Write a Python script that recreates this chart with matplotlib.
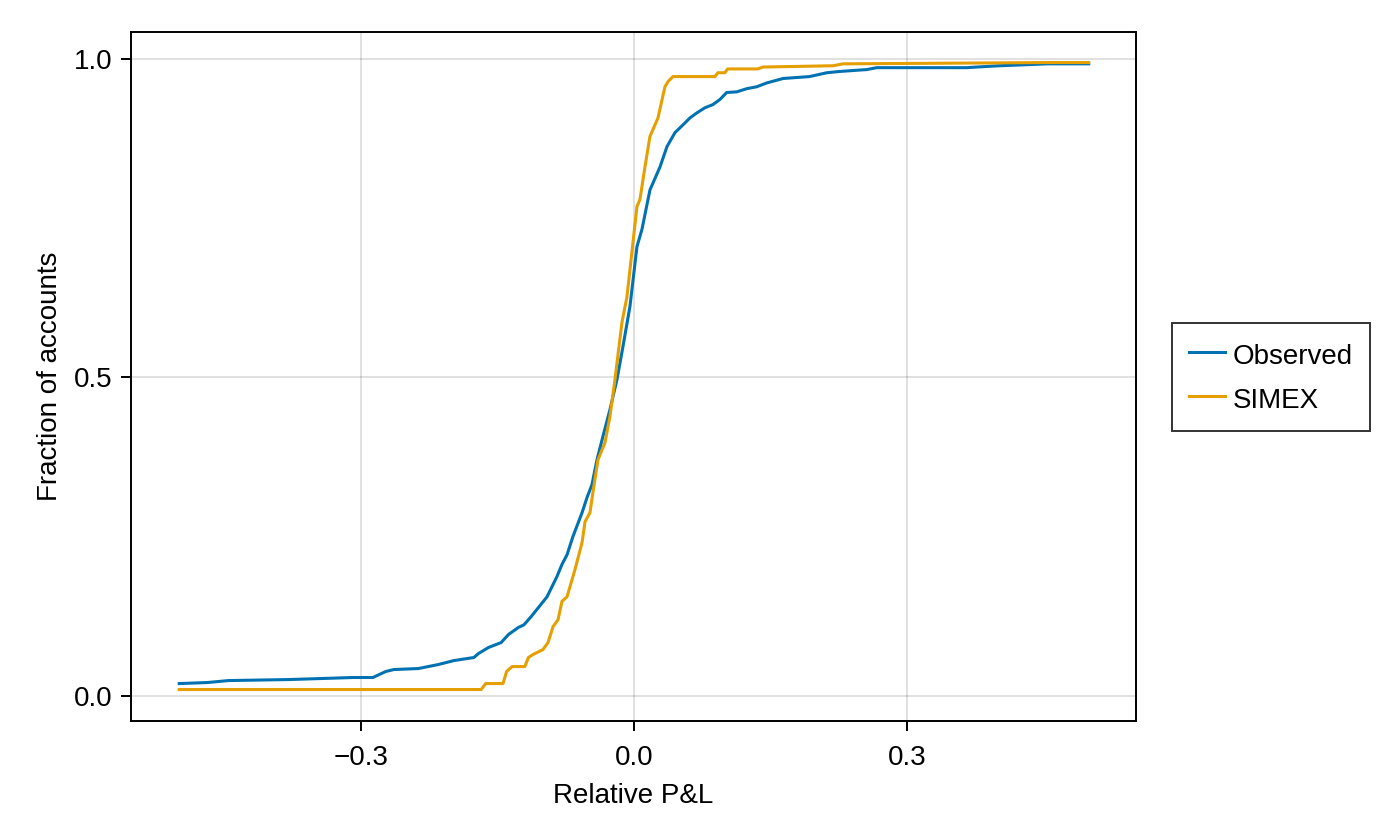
import matplotlib
matplotlib.use("Agg")
import matplotlib.pyplot as plt
from matplotlib.ticker import FixedLocator, FuncFormatter

plt.rcParams['font.family'] = ['Liberation Sans', 'DejaVu Sans']

# Observed empirical CDF (Relative P&L, fraction of accounts)
obs_x = [-0.50, -0.469, -0.446, -0.379, -0.309, -0.287, -0.273, -0.264, -0.237, -0.215,
         -0.198, -0.176, -0.171, -0.160, -0.146, -0.138, -0.127, -0.121, -0.113, -0.0956,
         -0.0846, -0.0791, -0.0736, -0.0670, -0.0571, -0.0516, -0.0462, -0.0407, -0.0341,
         -0.0264, -0.0187, -0.0121, -0.0044, 0.0033, 0.0088, 0.0176, 0.0286, 0.0363, 0.0451,
         0.0538, 0.0615, 0.0692, 0.0780, 0.0868, 0.0945, 0.102, 0.113, 0.124, 0.135, 0.146,
         0.164, 0.193, 0.212, 0.226, 0.256, 0.267, 0.366, 0.377, 0.402, 0.438, 0.454, 0.50]
obs_y = [0.0188, 0.0204, 0.0235, 0.0251, 0.0283, 0.0283, 0.0377, 0.0408, 0.0424, 0.0487,
         0.0549, 0.0597, 0.0659, 0.0754, 0.0832, 0.0958, 0.107, 0.111, 0.124, 0.155,
         0.187, 0.206, 0.221, 0.250, 0.287, 0.311, 0.331, 0.370, 0.407,
         0.449, 0.496, 0.548, 0.611, 0.705, 0.732, 0.794, 0.830, 0.862, 0.884,
         0.896, 0.907, 0.915, 0.923, 0.928, 0.936, 0.947, 0.948, 0.953, 0.956, 0.962,
         0.969, 0.972, 0.978, 0.980, 0.983, 0.986, 0.986, 0.987, 0.989, 0.991, 0.992, 0.992]

# SIMEX-corrected CDF
sim_x = [-0.50, -0.168, -0.163, -0.144, -0.140, -0.134, -0.120, -0.116, -0.111, -0.100,
         -0.0945, -0.0890, -0.0835, -0.0791, -0.0736, -0.0703, -0.0648, -0.0571, -0.0538,
         -0.0484, -0.0451, -0.0396, -0.0319, -0.0264, -0.0209, -0.0132, -0.0077, 0.0033,
         0.0066, 0.0121, 0.0176, 0.0264, 0.0341, 0.0374, 0.0429, 0.0890, 0.0923, 0.100,
         0.103, 0.136, 0.142, 0.219, 0.230, 0.454, 0.50]
sim_y = [0.0094, 0.0094, 0.0188, 0.0188, 0.0377, 0.0455, 0.0455, 0.0597, 0.0644, 0.0722,
         0.0832, 0.108, 0.119, 0.148, 0.155, 0.171, 0.198, 0.240, 0.273,
         0.287, 0.319, 0.370, 0.397, 0.438, 0.496, 0.586, 0.626, 0.768,
         0.779, 0.830, 0.878, 0.907, 0.956, 0.964, 0.972, 0.972, 0.978, 0.978,
         0.984, 0.984, 0.987, 0.989, 0.992, 0.994, 0.994]

series_labels = ["Observed", "SIMEX"]
x_ticks = [-0.3, 0.0, 0.3]
y_ticks = [0.0, 0.5, 1.0]

BLUE = "#0072B2"
ORANGE = "#E69F00"
FS = 20

fig = plt.figure(figsize=(14, 8.4), dpi=100)
ax = fig.add_axes([131/1400, 1 - 721/840, (1136 - 131)/1400, (721 - 32)/840])

ax.plot(obs_x, obs_y, color=BLUE, lw=2.2, label=series_labels[0], solid_joinstyle='round')
ax.plot(sim_x, sim_y, color=ORANGE, lw=2.2, label=series_labels[1], solid_joinstyle='round')

ax.set_xlim(-0.553, 0.552)
ax.set_ylim(-0.040, 1.042)
ax.xaxis.set_major_locator(FixedLocator(x_ticks))
ax.yaxis.set_major_locator(FixedLocator(y_ticks))
fmt = FuncFormatter(lambda v, p: ("\u2212" if v < -1e-9 else "") + f"{abs(v):.1f}")
ax.xaxis.set_major_formatter(fmt)
ax.yaxis.set_major_formatter(fmt)

ax.grid(True, color='black', alpha=0.12, lw=1.4)
ax.set_axisbelow(True)
for s in ax.spines.values():
    s.set_linewidth(1.4)
    s.set_color("black")
ax.tick_params(direction='out', length=7, width=1.4, labelsize=FS)
ax.tick_params(axis='x', pad=10)
ax.tick_params(axis='y', pad=6)

ax.set_xlabel("Relative P&L", fontsize=FS, labelpad=9)
ax.set_ylabel("Fraction of accounts", fontsize=FS, labelpad=8.5)

leg = fig.legend(loc='center left', bbox_to_anchor=(1172/1400, 1 - 377/840),
                 fontsize=FS, frameon=True, fancybox=False, edgecolor='black',
                 handlelength=1.3, handleheight=1.35, handletextpad=0.3,
                 borderpad=0.6, labelspacing=0.45, borderaxespad=0)
leg.get_frame().set_linewidth(1.4)

fig.savefig("out.png", dpi=100)
